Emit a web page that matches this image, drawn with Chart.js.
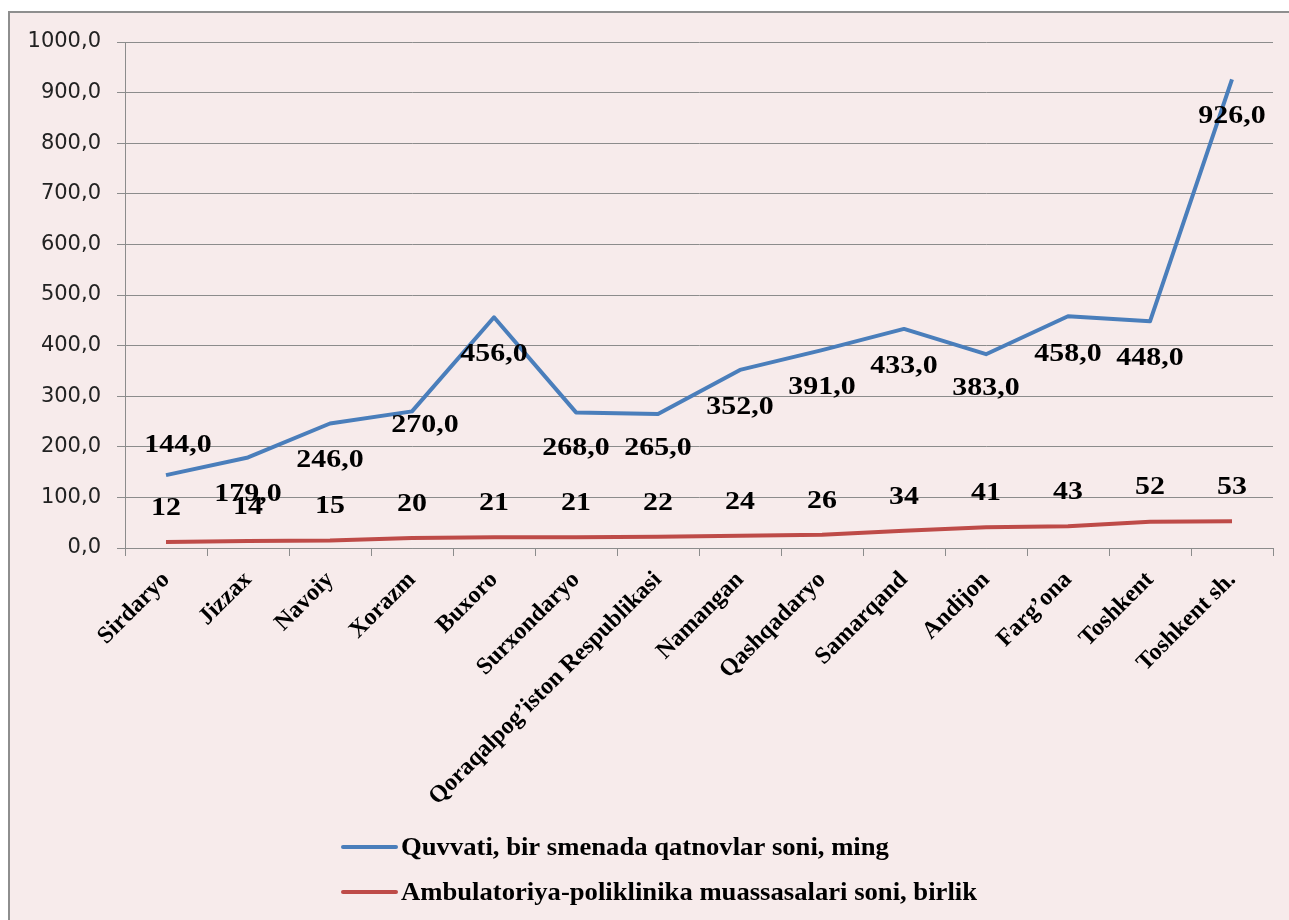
<!DOCTYPE html>
<html>
<head>
<meta charset="utf-8">
<script src="https://cdn.jsdelivr.net/npm/chart.js@4/dist/chart.umd.min.js"></script>
<style>
  html, body { margin: 0; padding: 0; background: #ffffff; overflow: hidden; }
  #wrap { position: absolute; left: 0; top: 0; width: 1289px; height: 920px; }
  canvas { display: block; }
</style>
</head>
<body>
<div id="wrap"><canvas id="c" width="1289" height="920"></canvas></div>
<script>
// ---- data ----
const categories = ['Sirdaryo', 'Jizzax', 'Navoiy', 'Xorazm', 'Buxoro', 'Surxondaryo',
  'Qoraqalpog\u2019iston Respublikasi', 'Namangan', 'Qashqadaryo', 'Samarqand', 'Andijon',
  'Farg\u2019ona', 'Toshkent', 'Toshkent sh.'];
const quvvatiValues = [144, 179, 246, 270, 456, 268, 265, 352, 391, 433, 383, 458, 448, 926];
const muassasalarValues = [12, 14, 15, 20, 21, 21, 22, 24, 26, 34, 41, 43, 52, 53];
const seriesNames = ['Quvvati, bir smenada qatnovlar soni, ming',
  'Ambulatoriya-poliklinika muassasalari soni, birlik'];
const yTicks = [0, 100, 200, 300, 400, 500, 600, 700, 800, 900, 1000];

// ---- style ----
const BLUE = '#4A7EBB';
const RED = '#BE4B48';
const BG = '#F7EBEB';
const GRID = '#8C8C8C';
// label offsets (pixels from the point) for the blue series' data labels
const blueLabelShift = [[12, -30], [0, 37], [0, 37], [13, 14], [0, 37], [0, 36], [0, 34],
  [0, 37], [0, 37], [0, 37], [0, 34], [0, 38], [0, 37], [0, 37]];
const redLabelShift = -34;

const fmt1 = v => v.toFixed(1).replace('.', ',');

const framePlugin = {
  id: 'frame',
  beforeDraw(chart) {
    const ctx = chart.ctx;
    ctx.save();
    ctx.fillStyle = '#ffffff';
    ctx.fillRect(0, 0, chart.width, chart.height);
    ctx.fillStyle = BG;
    ctx.fillRect(9, 12, chart.width - 9, chart.height - 12);
    ctx.strokeStyle = '#8E8E8E';
    ctx.lineWidth = 2;
    ctx.beginPath();
    ctx.moveTo(9, chart.height + 10);
    ctx.lineTo(9, 12);
    ctx.lineTo(chart.width + 10, 12);
    ctx.stroke();
    ctx.restore();
  }
};

const labelPlugin = {
  id: 'valueLabels',
  afterDatasetsDraw(chart) {
    const ctx = chart.ctx;
    ctx.save();
    ctx.fillStyle = '#000000';
    ctx.font = 'bold 26px "Liberation Serif", "Times New Roman", serif';
    ctx.textAlign = 'center';
    ctx.textBaseline = 'middle';
    const draw = (txt, x, y) => {
      ctx.save();
      ctx.translate(x, y);
      ctx.scale(1.15, 1);
      ctx.fillText(txt, 0, 0);
      ctx.restore();
    };
    chart.getDatasetMeta(1).data.forEach((pt, i) => {
      draw(String(muassasalarValues[i]), pt.x, pt.y + redLabelShift);
    });
    chart.getDatasetMeta(0).data.forEach((pt, i) => {
      const s = blueLabelShift[i];
      draw(fmt1(quvvatiValues[i]), pt.x + s[0], pt.y + s[1]);
    });
    ctx.restore();
  }
};

const legendPlugin = {
  id: 'stackLegend',
  afterDraw(chart) {
    const ctx = chart.ctx;
    ctx.save();
    ctx.font = 'bold 26px "Liberation Serif", "Times New Roman", serif';
    ctx.textBaseline = 'middle';
    ctx.textAlign = 'left';
    const rows = [847, 892];
    chart.data.datasets.forEach((ds, i) => {
      const y = rows[i];
      ctx.strokeStyle = ds.borderColor;
      ctx.lineWidth = 4;
      ctx.lineCap = 'round';
      ctx.beginPath();
      ctx.moveTo(343, y);
      ctx.lineTo(396, y);
      ctx.stroke();
      ctx.fillStyle = '#000000';
      ctx.save();
      ctx.translate(401, y + 1);
      ctx.scale(1.025, 1);
      ctx.fillText(ds.label, 0, 0);
      ctx.restore();
    });
    ctx.restore();
  }
};

new Chart(document.getElementById('c'), {
  type: 'line',
  data: {
    labels: categories,
    datasets: [
      { label: seriesNames[0], data: quvvatiValues, borderColor: BLUE, backgroundColor: BLUE,
        borderWidth: 4, pointRadius: 0, tension: 0, borderJoinStyle: 'round' },
      { label: seriesNames[1], data: muassasalarValues, borderColor: RED, backgroundColor: RED,
        borderWidth: 4, pointRadius: 0, tension: 0, borderJoinStyle: 'round' }
    ]
  },
  options: {
    responsive: false,
    animation: false,
    events: [],
    layout: { padding: { left: 0, right: 16, top: 42, bottom: 0 } },
    plugins: { legend: { display: false }, tooltip: { enabled: false } },
    scales: {
      x: {
        offset: true,
        grid: { offset: true, drawOnChartArea: false, drawTicks: true, tickLength: 8, color: GRID, lineWidth: 1 },
        border: { display: true, color: GRID, width: 1 },
        ticks: {
          autoSkip: false, minRotation: 45, maxRotation: 45, padding: 10, color: '#000000',
          font: { family: '"Liberation Serif", "Times New Roman", serif', size: 24, weight: 'bold' }
        },
        afterFit(scale) { scale.height = 920 - 548; }
      },
      y: {
        min: 0, max: 1000,
        afterBuildTicks(scale) { scale.ticks = yTicks.map(v => ({ value: v })); },
        grid: { drawOnChartArea: true, drawTicks: true, tickLength: 8, color: GRID, lineWidth: 1 },
        border: { display: true, color: GRID, width: 1 },
        ticks: {
          padding: 16, color: '#222222',
          font: { family: '"DejaVu Sans", Verdana, sans-serif', size: 21 },
          callback: v => fmt1(v)
        },
        afterFit(scale) { scale.width = 125; }
      }
    }
  },
  plugins: [framePlugin, labelPlugin, legendPlugin]
});
</script>
</body>
</html>
